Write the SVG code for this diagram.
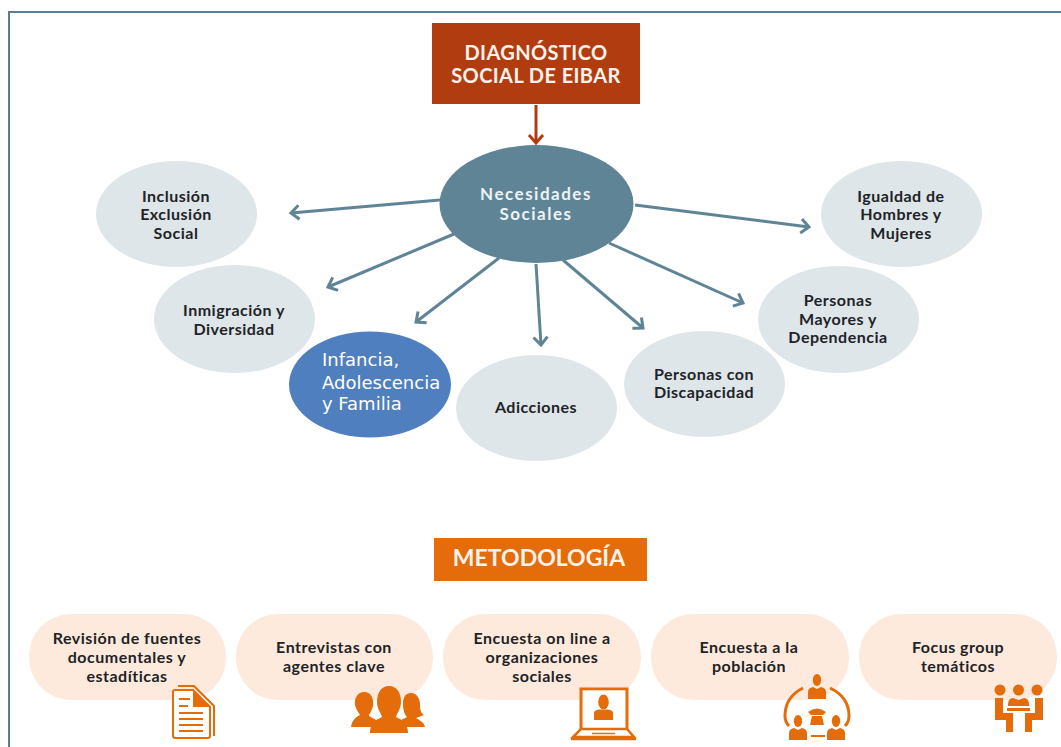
<svg xmlns="http://www.w3.org/2000/svg" xmlns:xlink="http://www.w3.org/1999/xlink" width="1061" height="747" viewBox="0 0 1061 747">
<style>
text{font-family:"Lato","Liberation Sans",sans-serif;font-weight:700;text-anchor:middle}
.c{fill:#dfe6ea}
.d{fill:#1d2326;font-size:16px;letter-spacing:.5px}
.p{fill:#fdeadc}
.m{fill:#1d2326;font-size:16px;letter-spacing:.5px}
.l{fill:none;stroke:#5f8496;stroke-width:3}
.i{fill:#e46c0a}
.o{fill:none;stroke:#e46c0a}
.w{fill:#fdf3ec;font-size:20px;letter-spacing:.4px}
.n{fill:#eef3f5;font-size:17px;letter-spacing:1.5px}
.f{fill:#fff;font-family:"DejaVu Sans",sans-serif;font-size:18px;text-anchor:start;font-weight:400}
</style>
<defs>
<marker id="a" markerUnits="userSpaceOnUse" markerWidth="20" markerHeight="20" refX="13" refY="10" orient="auto" overflow="visible"><path d="M5 3 L13 10 L5 17" fill="none" stroke="#5f8496" stroke-width="3"/></marker>
<marker id="r" markerUnits="userSpaceOnUse" markerWidth="20" markerHeight="20" refX="13" refY="10" orient="auto" overflow="visible"><path d="M5 3 L13 10 L5 17" fill="none" stroke="#b13c10" stroke-width="3"/></marker>
<g id="man"><ellipse cx="0" cy="-12" rx="4.2" ry="6"/><path d="M-9 7 V0 Q-9 -4 -4 -5 L0 -3 L4 -5 Q9 -4 9 0 V7 Z"/></g>
</defs>
<rect width="1061" height="747" fill="#fff"/>
<path d="M9 747 V12 H1061" fill="none" stroke="#5b7d90" stroke-width="2"/>
<g id="connectors" fill="none">
<path d="M536 105 V143" stroke="#b13c10" stroke-width="3" marker-end="url(#r)"/>
<path class="l" d="M440 200 L291 213" marker-end="url(#a)"/>
<path class="l" d="M454 234 L328 287" marker-end="url(#a)"/>
<path class="l" d="M499 258 L416 322" marker-end="url(#a)"/>
<path class="l" d="M536 264 L541 345" marker-end="url(#a)"/>
<path class="l" d="M563 260 L643 328" marker-end="url(#a)"/>
<path class="l" d="M609 243 L743 303" marker-end="url(#a)"/>
<path class="l" d="M635 205 L809 227" marker-end="url(#a)"/>
</g>
<g id="titulo"><rect x="432" y="23" width="208" height="81" fill="#b13c10"/>
<text class="w" x="536" y="60">DIAGNÓSTICO</text><text class="w" x="536" y="83">SOCIAL DE EIBAR</text></g>
<g id="necesidades"><ellipse cx="536.5" cy="204" rx="97" ry="59" fill="#5f8496"/>
<text class="n" x="536" y="200">Necesidades</text><text class="n" x="536" y="220">Sociales</text></g>
<g id="inclusion"><ellipse class="c" cx="176.5" cy="214" rx="80.5" ry="53"/>
<text class="d" x="176" y="202">Inclusión</text><text class="d" x="176" y="220">Exclusión</text><text class="d" x="176" y="239">Social</text></g>
<g id="inmigracion"><ellipse class="c" cx="234.5" cy="319" rx="80.5" ry="54"/>
<text class="d" x="234" y="316">Inmigración y</text><text class="d" x="234" y="335">Diversidad</text></g>
<g id="infancia"><ellipse cx="370" cy="384.5" rx="81" ry="53" fill="#4f7fbe"/>
<text class="f" x="322" y="366">Infancia,</text><text class="f" x="322" y="388.500">Adolescencia</text><text class="f" x="322" y="410">y Familia</text></g>
<g id="adicciones"><ellipse class="c" cx="536.5" cy="408" rx="80.5" ry="53"/><text class="d" x="536" y="413">Adicciones</text></g>
<g id="discapacidad"><ellipse class="c" cx="704.5" cy="384" rx="80.5" ry="53"/>
<text class="d" x="704" y="380">Personas con</text><text class="d" x="704" y="398">Discapacidad</text></g>
<g id="mayores"><ellipse class="c" cx="838.5" cy="319.5" rx="80.5" ry="53.5"/>
<text class="d" x="838" y="306">Personas</text><text class="d" x="838" y="325">Mayores y</text><text class="d" x="838" y="343">Dependencia</text></g>
<g id="igualdad"><ellipse class="c" cx="901.5" cy="214" rx="80.5" ry="53"/>
<text class="d" x="901" y="202">Igualdad de</text><text class="d" x="901" y="220">Hombres y</text><text class="d" x="901" y="239">Mujeres</text></g>
<g id="metodologia"><rect x="434" y="538" width="213" height="43" fill="#e46c0a"/><text x="539" y="566" fill="#fdf3ec" font-size="23">METODOLOGÍA</text></g>
<g id="revision"><rect class="p" x="29" y="614" width="197" height="86" rx="42"/>
<text class="m" x="127" y="644">Revisión de fuentes</text><text class="m" x="127" y="663">documentales y</text><text class="m" x="127" y="682">estadíticas</text>
<path d="M178 686 H194 L214 706 V736" class="o" stroke-width="2"/>
<path d="M175 690 H193 L210 707 V736 Q210 738 208 738 H175 Q173 738 173 736 V692 Q173 690 175 690Z" fill="#fff" stroke="#e46c0a" stroke-width="2"/>
<path d="M193 690 V707 H210 Z" class="i"/>
<path d="M179 699 H190 M179 706 H188 M179 713 H203 M179 719 H203 M179 725 H203 M179 731 H203" class="o" stroke-width="2"/></g>
<g id="entrevistas"><rect class="p" x="236" y="614" width="197" height="86" rx="42"/>
<text class="m" x="334" y="653">Entrevistas  con</text><text class="m" x="334" y="672">agentes clave</text>
<g class="i"><path d="M364 692 C372 692 374 700 373 706 C372 711 369 714 369 716 L378 721 L372 727 H351 C352 720 356 717 360 715 C358 712 356 709 355 705 C354 698 358 692 364 692Z"/>
<path d="M411 693 C417 693 420 699 420 705 C420 710 421 713 424 715 L416 718 C419 720 424 722 425 727 H405 L399 721 L407 717 C404 714 403 709 403 703 C403 697 406 693 411 693Z"/>
<path d="M389 686 C397 686 401 693 401 702 C401 709 397 713 396 717 C402 720 408 723 408 733 H370 C370 723 376 720 382 717 C381 713 377 709 377 702 C377 693 381 686 389 686Z"/></g></g>
<g id="encuesta-online"><rect class="p" x="443" y="614" width="198" height="86" rx="42"/>
<text class="m" x="542" y="644">Encuesta on line a</text><text class="m" x="542" y="663">organizaciones</text><text class="m" x="542" y="682">sociales</text>
<path d="M581 730 V689 H627 V730 M581 730" class="o" stroke-width="3"/><rect x="583" y="690.500" width="42" height="38" fill="#fff"/>
<path d="M581 729 H627 L634 737 H573 Z" fill="#fff" stroke="#e46c0a" stroke-width="2.500"/><path d="M571 739 H636" class="o" stroke-width="2.500"/><path d="M592 733.500 H615" class="o" stroke-width="1.500"/>
<g class="i"><ellipse cx="603.500" cy="702" rx="5.300" ry="7.500"/><path d="M594 720 V713 Q594 710 599 709.500 H608 Q613 710 613 713 V720 Z"/></g></g>
<g id="encuesta-poblacion"><rect class="p" x="651" y="614" width="198" height="86" rx="42"/>
<text class="m" x="749" y="653">Encuesta a la</text><text class="m" x="749" y="672">población</text>
<g class="i"><use xlink:href="#man" x="817" y="692"/><use xlink:href="#man" x="798" y="733"/><use xlink:href="#man" x="836" y="733"/>
<path d="M811 735 H825 V737 H811Z"/><path d="M808 712 Q817 705 826 712 L823 715 H811 Z M812 716 H822 L824 725 H810Z"/></g>
<path d="M803 688 Q785 697 785 716 Q785 722 789 726 M830 688 Q849 697 849 716 Q849 722 845 726" class="o" stroke-width="3"/></g>
<g id="focus"><rect class="p" x="859" y="614" width="198" height="86" rx="42"/>
<text class="m" x="958" y="653">Focus group</text><text class="m" x="958" y="672">temáticos</text>
<g class="i"><circle cx="1000" cy="690" r="5.500"/><circle cx="1018.500" cy="690" r="5.500"/><circle cx="1037" cy="690" r="5.500"/>
<path d="M995 698 H1003 V713 H1013 V732 H1006 V720 H995 Z M1043 698 H1035 V713 H1025 V732 H1032 V720 H1043 Z M1008 705 Q1008 698 1013 698 L1018.500 700 L1024 698 Q1029 698 1029 705 V706 H1008 Z M1007 708 H1030 V711 H1007 Z"/></g></g>
</svg>
